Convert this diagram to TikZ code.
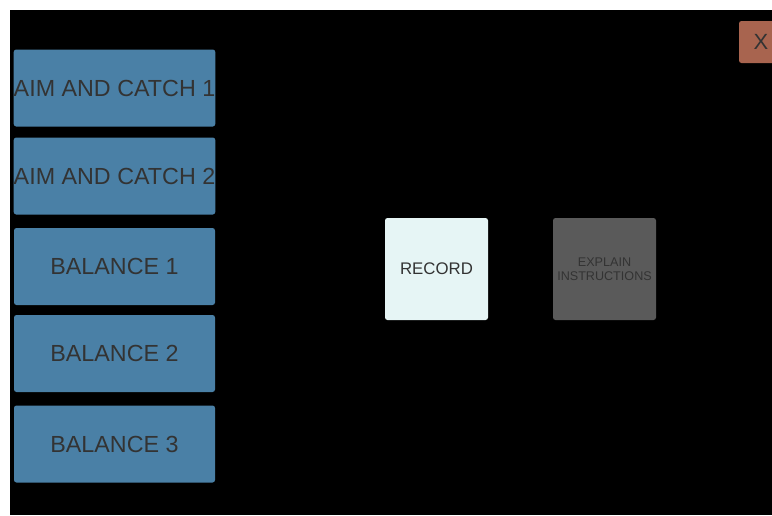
\documentclass[tikz,border=0pt]{standalone}
\usepackage{fontspec}
\setmainfont{Liberation Sans}
\usepackage{tikz}
\definecolor{tileblue}{HTML}{4A80A6}
\definecolor{closered}{HTML}{A8644F}
\definecolor{recordbg}{HTML}{E6F5F5}
\definecolor{explainbg}{HTML}{5A5A5A}
\definecolor{labelgray}{HTML}{333333}

\begin{document}
\begin{tikzpicture}[x=1pt, y=-1pt,
		tile/.style={rectangle, rounded corners=2.5pt, fill=tileblue, text=labelgray,
			minimum width=201pt, minimum height=77pt, inner sep=0pt, font=\fontsize{23.3}{27}\selectfont},
		square/.style={rectangle, rounded corners=2.5pt, minimum width=103pt, minimum height=102pt,
			inner sep=0pt, text=labelgray, align=center}]
				
				\useasboundingbox (0,0) rectangle (772,515);
				\fill[white] (0,0) rectangle (772,515);
				\fill[black] (10,10) rectangle (772,515);
				
				% activity list
				\node[tile] (aim1) at (114.5, 88) {AIM AND CATCH 1};
				\node[tile] (aim2) at (114.5, 176) {AIM AND CATCH 2};
				\node[tile] (bal1) at (114.5, 266.5) {BALANCE 1};
				\node[tile] (bal2) at (114.5, 353.5) {BALANCE 2};
				\node[tile] (bal3) at (114.5, 444) {BALANCE 3};
				
				% controls
				\node[square, fill=recordbg, font=\fontsize{16.8}{19}\selectfont] (rec) at (436.5, 269) {RECORD};
				\node[square, fill=explainbg, font=\fontsize{12.6}{14.5}\selectfont] (expl) at (604.5, 269) {EXPLAIN\\INSTRUCTIONS};
				
				% close
				\begin{scope}
					\clip (0,0) rectangle (772,515);
					\node[rectangle, rounded corners=2.5pt, fill=closered, text=labelgray, minimum width=44pt,
						minimum height=42pt, inner sep=0pt, font=\fontsize{22}{26}\selectfont] (close) at (761, 42) {};
				\end{scope}
				\node[text=labelgray, font=\fontsize{22}{26}\selectfont] (closetxt) at (761, 42) {X};
				
			\end{tikzpicture}
\end{document}
